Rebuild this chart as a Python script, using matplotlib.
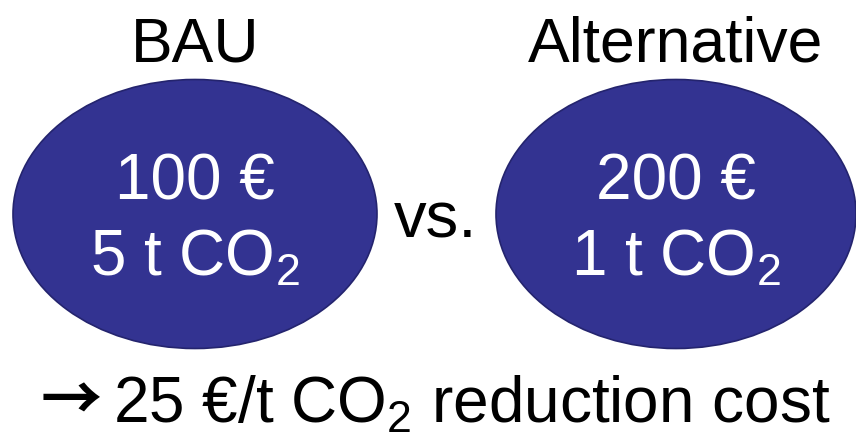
import matplotlib.pyplot as plt
from matplotlib.patches import Ellipse

plt.rcParams['font.family'] = ['Liberation Sans', 'DejaVu Sans']
plt.rcParams['mathtext.default'] = 'regular'

# options compared
names = ['BAU', 'Alternative']
costs = [100, 200]        # €
emissions = [5, 1]        # t CO2
reduction_cost = (costs[1] - costs[0]) / (emissions[0] - emissions[1])

# layout (pixel coords)
centers_x = [195, 676]
center_y = 214
widths = [364, 360]
height = 269
fill = '#333391'
edge = '#24246e'

fig = plt.figure(figsize=(8.56, 4.37), dpi=100)
ax = fig.add_axes([0, 0, 1, 1])
ax.set_xlim(0, 856)
ax.set_ylim(437, 0)
ax.axis('off')

for name, c, e, cx, w in zip(names, costs, emissions, centers_x, widths):
    ax.add_patch(Ellipse((cx, center_y), w, height, facecolor=fill,
                         edgecolor=edge, linewidth=1.2))
    ax.text(cx, 62, name, ha='center', va='baseline', fontsize=45, color='black')
    ax.text(cx, 200, f'{c} €', ha='center', va='baseline', fontsize=46, color='white')
    ax.text(cx, 276, f'{e} t CO$_2$', ha='center', va='baseline', fontsize=46, color='white')

ax.text(436, 238, 'vs.', ha='center', va='baseline', fontsize=47, color='black')
ax.text(71, 421, '→', ha='center', va='baseline', fontsize=44, color='black',
        family=['Noto Sans CJK JP', 'DejaVu Sans'], fontweight='bold')
ax.text(113, 423, f'{reduction_cost:.0f} €/t CO$_2$ reduction cost',
        ha='left', va='baseline', fontsize=46, color='black')

fig.savefig('out.png', dpi=100)
